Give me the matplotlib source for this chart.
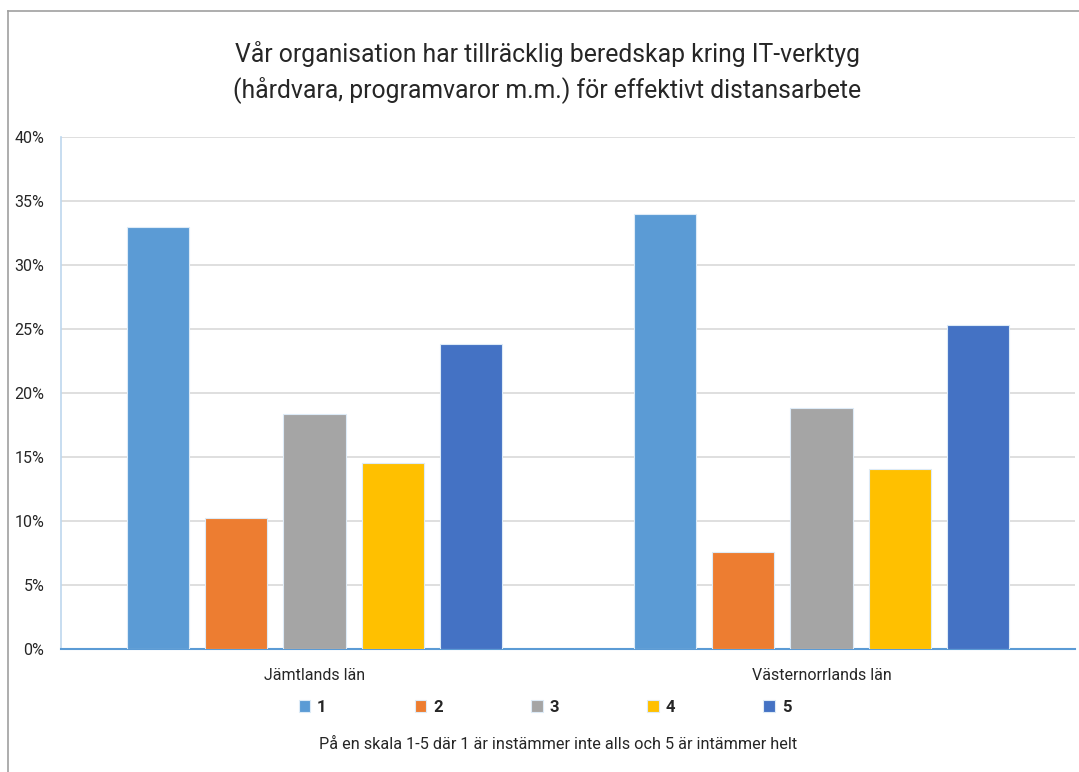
import numpy as np
import matplotlib.pyplot as plt
from matplotlib.lines import Line2D
from matplotlib.ticker import PercentFormatter

plt.rcParams['font.family'] = ['Roboto', 'DejaVu Sans']

# --- Data ---
regions = ["Jämtlands län", "Västernorrlands län"]
scale_labels = ["1", "2", "3", "4", "5"]
values = {
    "1": [33.0, 34.0],
    "2": [10.2, 7.6],
    "3": [18.4, 18.8],
    "4": [14.5, 14.1],
    "5": [23.8, 25.3],
}
colors = ["#5B9BD5", "#ED7D31", "#A5A5A5", "#FFC000", "#4472C4"]
yticks = [0, 5, 10, 15, 20, 25, 30, 35, 40]

title = ("Vår organisation har tillräcklig beredskap kring IT-verktyg\n"
         "(hårdvara, programvaror m.m.) för effektivt distansarbete")
footer = "På en skala 1-5 där 1 är instämmer inte alls och 5 är intämmer helt"

# --- Plot ---
fig = plt.figure(figsize=(10.79, 7.72), dpi=100)
ax = fig.add_axes([0.0565, 0.1593, 0.9398, 0.6632])

x = np.arange(len(regions))
bar_w = 0.1225
step = 0.154
for i, key in enumerate(scale_labels):
    offs = (i - 2) * step
    ax.bar(x + offs, values[key], width=bar_w, color=colors[i],
           edgecolor="#DDEBF7", linewidth=0.8, label=key, zorder=3)

ax.set_xlim(-0.5, 1.5)
ax.set_ylim(0, 40)
ax.set_yticks(yticks)
ax.yaxis.set_major_formatter(PercentFormatter(decimals=0))
ax.set_xticks(x)
ax.set_xticklabels(regions)
ax.tick_params(axis="both", length=0, labelsize=11.5, colors="#262626")
ax.tick_params(axis="x", pad=14)
ax.tick_params(axis="y", pad=12)
ax.grid(axis="y", color="#D9D9D9", linewidth=1.2, zorder=0)

for side in ["top", "right"]:
    ax.spines[side].set_visible(False)
ax.spines["left"].set_color("#BDD7EE")
ax.spines["left"].set_linewidth(1.2)
ax.spines["bottom"].set_color("#5B9BD5")
ax.spines["bottom"].set_linewidth(1.5)

fig.text(0.507, 0.907, title, ha="center", va="center", fontsize=17.8,
         color="#262626", linespacing=1.45)

leg = fig.legend(loc="center", bbox_to_anchor=(0.505, 0.084), ncol=5,
                 frameon=False, handlelength=0.7, handleheight=0.7,
                 handletextpad=0.4, columnspacing=5.3,
                 prop={"weight": "bold", "size": 12})
for t in leg.get_texts():
    t.set_color("#262626")

fig.text(0.517, 0.035, footer, ha="center", va="center", fontsize=11.7,
         color="#262626")

# outer chart border (only top and left visible)
fig.add_artist(Line2D([0.0074, 1.0], [0.9858, 0.9858], transform=fig.transFigure,
                      color="#A0A0A0", linewidth=1.2))
fig.add_artist(Line2D([0.0074, 0.0074], [0.0, 0.9858], transform=fig.transFigure,
                      color="#A0A0A0", linewidth=1.2))

fig.savefig("out.png", dpi=100, facecolor="white")
